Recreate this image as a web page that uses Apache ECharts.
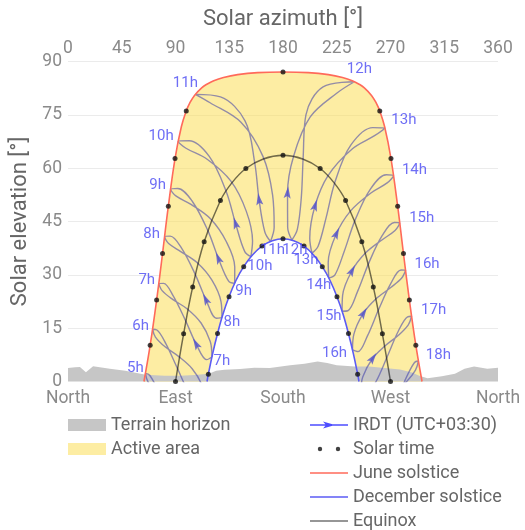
<!DOCTYPE html>
<html>
<head>
<meta charset="utf-8">
<script src="https://cdn.jsdelivr.net/npm/echarts@6/dist/echarts.min.js"></script>
<style>
  html, body { margin: 0; padding: 0; background: #fff; }
  #chart { width: 525px; height: 530px; }
</style>
</head>
<body>
<div id="chart"></div>
<script>
// sun path diagram, clock time IRDT (UTC+03:30)
const compassNames = ['North', 'East', 'South', 'West', 'North'];
const hours = [5, 6, 7, 8, 9, 10, 11, 12, 13, 14, 15, 16, 17, 18];

// terrain horizon [azimuth, elevation]
const terrain = [[0, 3.8], [6, 4.0], [10, 4.1], [15, 2.6], [21, 4.3], [35, 3.6], [48, 3.0], [65, 1.9],
  [81, 1.6], [94, 1.6], [106, 1.8], [118, 2.2], [124, 3.0], [131, 3.3], [144, 3.5], [156, 3.9], [169, 3.8],
  [186, 4.6], [198, 5.0], [209, 5.6], [217, 5.2], [225, 4.6], [240, 4.2], [252, 4.2], [265, 3.8], [278, 3.4],
  [288, 2.5], [294, 1.6], [301, 0.9], [313, 1.5], [324, 2.2], [332, 3.6], [340, 4.2], [351, 3.6], [360, 3.9]];

// day paths
const juneSolstice = [[63.6, 0], [68.8, 10.2], [74.2, 22.9], [79.15, 36.0], [84.0, 49.3], [89.6, 62.7],
  [94.9, 71.65], [99.0, 76.1], [101.9, 78.3], [105.9, 80.47], [111.9, 82.6], [116.2, 83.6], [122.0, 84.6],
  [130.2, 85.5], [142.0, 86.3], [158.8, 86.86], [180, 87.04], [201.2, 86.86], [218.0, 86.3], [229.8, 85.5],
  [238.0, 84.6], [243.8, 83.6], [248.1, 82.6], [254.1, 80.47], [258.1, 78.3], [261.0, 76.1], [265.1, 71.65],
  [270.4, 62.7], [276.0, 49.3], [280.85, 36.0], [285.8, 22.9], [291.2, 10.2], [296.4, 0]];
const decSolstice = [[116.4, 0], [117.5, 2.05], [121.15, 7.9], [125.2, 13.5], [129.7, 18.9], [134.8, 23.84],
  [140.6, 28.4], [147.1, 32.3], [154.4, 35.6], [162.4, 38.1], [171.05, 39.6], [180, 40.16], [188.95, 39.6],
  [197.6, 38.1], [205.6, 35.6], [212.9, 32.3], [219.4, 28.4], [225.2, 23.84], [230.3, 18.9], [234.8, 13.5],
  [238.85, 7.9], [242.5, 2.05], [243.6, 0]];
const equinox = [[90, 0], [96.8, 13.4], [104.4, 26.6], [114.0, 39.3], [127.6, 50.9], [137.0, 55.8],
  [148.9, 59.9], [163.5, 62.6], [180, 63.6], [196.5, 62.6], [211.1, 59.9], [223.0, 55.8], [232.4, 50.9],
  [246.0, 39.3], [255.6, 26.6], [263.2, 13.4], [270, 0]];

// whole solar hours on the three day paths
const juneDots = [[68.8, 10.2], [74.2, 22.9], [79.15, 36.0], [84.0, 49.3], [89.6, 62.7], [99.0, 76.1], [180, 87.04],
  [261.0, 76.1], [270.4, 62.7], [276.0, 49.3], [280.85, 36.0], [285.8, 22.9], [291.2, 10.2]];
const decDots = [[117.5, 2.05], [125.2, 13.5], [134.8, 23.84], [147.1, 32.3], [162.4, 38.1], [180, 40.16],
  [197.6, 38.1], [212.9, 32.3], [225.2, 23.84], [234.8, 13.5], [242.5, 2.05]];
const equinoxDots = [[90, 0], [96.8, 13.4], [104.4, 26.6], [114.0, 39.3], [127.6, 50.9], [148.9, 59.9], [180, 63.6],
  [211.1, 59.9], [232.4, 50.9], [246.0, 39.3], [255.6, 26.6], [263.2, 13.4], [270, 0]];

// clock-hour loops: 21st of Dec, Jan, Feb ... Nov, back to Dec
const h05 = [[108.0, -17.6], [103.5, -19.1], [94.1, -15.9], [85.0, -9.9], [75.4, -2.5], [68.4, 1.76], [64.85, 2.25],
  [67.0, -0.13], [74.7, -3.4], [86.1, -6.4], [97.4, -9.6], [105.7, -13.6], [108.0, -17.6]];
const h06 = [[113.7, -5.05], [109.4, -6.25], [100.5, -2.6], [91.8, 3.54], [81.9, 10.65], [74.45, 14.5], [70.8, 14.7],
  [73.2, 12.5], [81.3, 9.75], [92.8, 7.0], [103.95, 3.6], [111.9, -0.87], [113.7, -5.05]];
const h07 = [[120.5, 6.9], [116.1, 6.15], [107.5, 10.4], [98.7, 16.9], [88.2, 24.0], [80.0, 27.6], [76.0, 27.55],
  [78.8, 25.55], [87.6, 23.1], [99.9, 20.4], [111.4, 16.45], [119.1, 11.25], [120.5, 6.9]];
const h08 = [[128.9, 17.97], [124.2, 17.8], [115.6, 22.9], [106.7, 30.0], [95.2, 37.45], [85.55, 40.9], [80.9, 40.7],
  [84.25, 38.8], [94.4, 36.55], [108.25, 33.4], [120.5, 28.5], [128.1, 22.45], [128.9, 17.97]];
const h09 = [[139.55, 27.6], [134.5, 28.2], [126.1, 34.45], [117.0, 42.5], [104.0, 50.7], [91.9, 54.3], [85.9, 54.05],
  [90.3, 52.2], [103.0, 49.8], [119.45, 45.7], [132.6, 39.3], [139.6, 32.2], [139.55, 27.6]];
const h10 = [[153.1, 35.1], [147.9, 36.6], [140.4, 44.3], [132.3, 53.6], [118.25, 63.3], [101.45, 67.7], [92.2, 67.5],
  [98.8, 65.6], [116.5, 62.5], [136.4, 56.35], [149.3, 47.85], [154.5, 39.5], [153.1, 35.1]];
const h11 = [[169.5, 39.4], [164.8, 42.05], [160.0, 51.0], [156.3, 61.55], [148.3, 73.25], [127.65, 80.05], [106.6, 80.75],
  [118.95, 78.4], [144.8, 72.9], [163.3, 63.25], [171.3, 52.4], [172.6, 43.4], [169.5, 39.4]];
const h12 = [[187.4, 39.8], [183.9, 43.4], [183.8, 52.9], [188.8, 63.3], [202.8, 74.4], [225.5, 81.2], [239.8, 84.3],
  [213.55, 82.85], [199.2, 75.0], [196.9, 63.2], [195.3, 51.65], [192.0, 42.8], [187.4, 39.8]];
const h13 = [[204.25, 36.1], [202.4, 40.3], [206.7, 49.3], [217.7, 57.9], [237.9, 65.4], [257.0, 69.2], [265.3, 71.3],
  [255.2, 71.4], [236.6, 66.4], [223.7, 56.3], [215.9, 45.8], [209.4, 38.05], [204.25, 36.1]];
const h14 = [[218.3, 29.1], [217.85, 33.55], [224.55, 41.45], [236.6, 48.0], [253.9, 53.1], [267.2, 55.85], [272.5, 57.9],
  [266.5, 58.15], [253.3, 54.2], [240.6, 45.6], [231.15, 36.5], [223.5, 30.0], [218.3, 29.1]];
const h15 = [[229.45, 19.76], [229.9, 24.2], [237.5, 31.0], [248.8, 36.05], [263.4, 39.95], [273.8, 42.45], [277.7, 44.55],
  [273.2, 44.7], [263.0, 41.0], [251.8, 33.3], [242.3, 25.2], [234.3, 19.9], [229.45, 19.76]];
const h16 = [[238.2, 8.9], [239.3, 13.25], [247.1, 19.1], [257.7, 23.2], [270.5, 26.5], [279.4, 29.1], [282.6, 31.3],
  [278.8, 31.35], [270.3, 27.6], [260.15, 20.3], [250.8, 12.9], [242.8, 8.4], [238.2, 8.9]];
const h17 = [[245.2, -2.9], [246.75, 1.25], [254.8, 6.4], [265.0, 9.9], [276.9, 13.1], [284.9, 15.95], [287.65, 18.35],
  [284.3, 18.2], [276.6, 14.2], [267.2, 6.95], [257.9, 0.0], [249.7, -3.9], [245.2, -2.9]];
const h18 = [[251.1, -15.4], [253.0, -11.35], [261.5, -6.8], [271.8, -3.54], [283.35, -0.1], [290.9, 3.2], [293.35, 5.75],
  [290.1, 5.35], [283.0, 0.96], [273.9, -6.5], [264.4, -13.3], [255.65, -16.7], [251.1, -15.4]];
const loops = [h05, h06, h07, h08, h09, h10, h11, h12, h13, h14, h15, h16, h17, h18];

const DEC = 0, JAN = 1, FEB = 2, MAR = 3, JUN = 6;

// label placement (pixels, centre offset from the loop end)
const juneLabelOffset = [[-10, -5], [-12, -3], [-12, -3.5], [-13, -3], [-13, -4], [-17, -5.5], [-10, -11],
  [5, -13], [19, -8], [21, -5.5], [22, -5], [21.5, -6], [22, -6], [20, -6]];
const decLabelOffset = { 7: [10, 4], 8: [10, 5], 9: [9, 8], 10: [9, 10], 11: [2, 9], 12: [3, 10],
  13: [-6, 7], 14: [-10, 7], 15: [-13, 5.5], 16: [-18, 3] };

const FONT = 'Roboto';
const loopColor = 'rgba(60,60,170,0.55)';
const hourColor = '#4a4af2';
const lineIcon = 'path://M0,0M38,12M0,5.2h38v1.6h-38z';
const arrowIcon = 'path://M0,0M38,12M0,5.2h38v1.6h-38zM13,2.5L25,6L13,9.5L16,6z';
const dotsIcon = 'path://M0,0M38,12M7.8,6a2.2,2.2 0 1,0 4.4,0a2.2,2.2 0 1,0 -4.4,0zM25.8,6a2.2,2.2 0 1,0 4.4,0a2.2,2.2 0 1,0 -4.4,0z';

const chart = echarts.init(document.getElementById('chart'), null, { renderer: 'canvas' });

const areaPolygon = juneSolstice.concat(decSolstice.slice().reverse());

const loopSeries = loops.map(loop => ({
  type: 'line', name: 'IRDT (UTC+03:30)', data: loop, smooth: 0.35, symbol: 'none', silent: true, z: 4,
  lineStyle: { color: loopColor, width: 1.4 }, itemStyle: { color: loopColor }
}));

const arrowData = loops.map((loop, i) => [loop[FEB][0], loop[FEB][1], i]).filter(d => d[1] > 0);

const juneLabels = loops.map((loop, i) => ({
  value: loop[JUN],
  label: { formatter: hours[i] + 'h', offset: juneLabelOffset[i] }
}));
const decLabels = loops.map((loop, i) => ({ loop, h: hours[i] }))
  .filter(d => d.loop[DEC][1] > 0)
  .map(d => ({ value: d.loop[DEC], label: { formatter: d.h + 'h', offset: decLabelOffset[d.h] } }));

const labelSeries = data => ({
  type: 'scatter', data, symbolSize: 1, silent: true, z: 8,
  itemStyle: { color: 'transparent' },
  label: { show: true, position: 'inside', color: hourColor, fontSize: 15, fontFamily: FONT }
});

const legendBase = {
  orient: 'vertical', top: 416, height: 130, padding: 0, itemWidth: 38, itemHeight: 12, itemGap: 6,
  selectedMode: false, itemStyle: { borderWidth: 0 },
  textStyle: { color: '#666', fontSize: 18 }
};

const option = {
  animation: false,
  textStyle: { fontFamily: FONT },
  grid: { left: 68, right: 27, top: 61.5, bottom: 148.5, outerBoundsMode: 'none' },
  xAxis: [
    {
      type: 'value', position: 'bottom', min: 0, max: 360, interval: 90,
      axisLine: { show: false }, axisTick: { show: false }, splitLine: { show: false },
      axisLabel: { color: '#8a8a8a', fontSize: 17.5, margin: 8, formatter: v => compassNames[v / 90] }
    },
    {
      type: 'value', position: 'top', min: 0, max: 360, interval: 45,
      name: 'Solar azimuth [°]', nameLocation: 'middle', nameGap: 31,
      nameTextStyle: { color: '#666', fontSize: 22 },
      axisLine: { show: false }, axisTick: { show: false }, splitLine: { show: false },
      axisLabel: { color: '#8a8a8a', fontSize: 17.5, margin: 4 }
    }
  ],
  yAxis: {
    type: 'value', min: 0, max: 90, interval: 15,
    name: 'Solar elevation [°]', nameLocation: 'middle', nameGap: 29,
    nameTextStyle: { color: '#666', fontSize: 22 },
    axisLine: { show: false }, axisTick: { show: false },
    axisLabel: { color: '#8a8a8a', fontSize: 17.5, margin: 6 },
    splitLine: { lineStyle: { color: '#ebebeb', width: 1 } }
  },
  legend: [
    Object.assign({}, legendBase, {
      left: 68,
      data: [{ name: 'Terrain horizon', icon: 'rect' }, { name: 'Active area', icon: 'rect' }]
    }),
    Object.assign({}, legendBase, {
      left: 310,
      data: [
        { name: 'IRDT (UTC+03:30)', icon: arrowIcon, itemStyle: { color: '#4d4dff' } },
        { name: 'Solar time', icon: dotsIcon },
        { name: 'June solstice', icon: lineIcon },
        { name: 'December solstice', icon: lineIcon },
        { name: 'Equinox', icon: lineIcon }
      ]
    })
  ],
  series: [
    {
      type: 'custom', name: 'Active area', silent: true, z: 2,
      itemStyle: { color: 'rgba(252,222,88,0.55)' },
      data: [[180, 45]],
      renderItem: (params, api) => ({
        type: 'polygon',
        shape: { points: areaPolygon.map(p => api.coord(p)) },
        style: { fill: api.visual('color') }
      })
    },
    {
      type: 'line', name: 'Terrain horizon', data: terrain, symbol: 'none', silent: true, z: 3,
      lineStyle: { color: '#c6c6c6', width: 0 }, itemStyle: { color: '#c6c6c6' },
      areaStyle: { color: '#c6c6c6', opacity: 1 }
    },
    ...loopSeries,
    {
      type: 'line', name: 'Equinox', data: equinox, smooth: 0.4, symbol: 'none', silent: true, z: 5,
      lineStyle: { color: 'rgba(0,0,0,0.55)', width: 1.5 }, itemStyle: { color: 'rgba(0,0,0,0.55)' }
    },
    {
      type: 'line', name: 'June solstice', data: juneSolstice, smooth: 0.4, symbol: 'none', silent: true, z: 5,
      lineStyle: { color: '#ff6a5a', width: 1.6 }, itemStyle: { color: '#ff6a5a' }
    },
    {
      type: 'line', name: 'December solstice', data: decSolstice, smooth: 0.4, symbol: 'none', silent: true, z: 5,
      lineStyle: { color: '#5b5bf5', width: 1.6 }, itemStyle: { color: '#5b5bf5' }
    },
    {
      type: 'custom', name: 'arrows', silent: true, z: 6,
      itemStyle: { color: 'rgba(80,80,205,0.8)' },
      data: arrowData,
      renderItem: (params, api) => {
        const loop = loops[api.value(2)];
        const c = api.coord([api.value(0), api.value(1)]);
        const a = api.coord(loop[JAN]);
        const b = api.coord(loop[MAR]);
        let ux = b[0] - a[0], uy = b[1] - a[1];
        const len = Math.hypot(ux, uy) || 1;
        ux /= len; uy /= len;
        const pt = (s, t) => [c[0] + ux * s - uy * t, c[1] + uy * s + ux * t];
        return {
          type: 'polygon',
          shape: { points: [pt(7, 0), pt(-5, 3.5), pt(-2.5, 0), pt(-5, -3.5)] },
          style: { fill: api.visual('color') }
        };
      }
    },
    {
      type: 'scatter', name: 'Solar time', data: juneDots.concat(decDots, equinoxDots),
      symbolSize: 5, silent: true, z: 7, itemStyle: { color: '#111' }
    },
    labelSeries(juneLabels),
    labelSeries(decLabels)
  ]
};

chart.setOption(option);
</script>
</body>
</html>
